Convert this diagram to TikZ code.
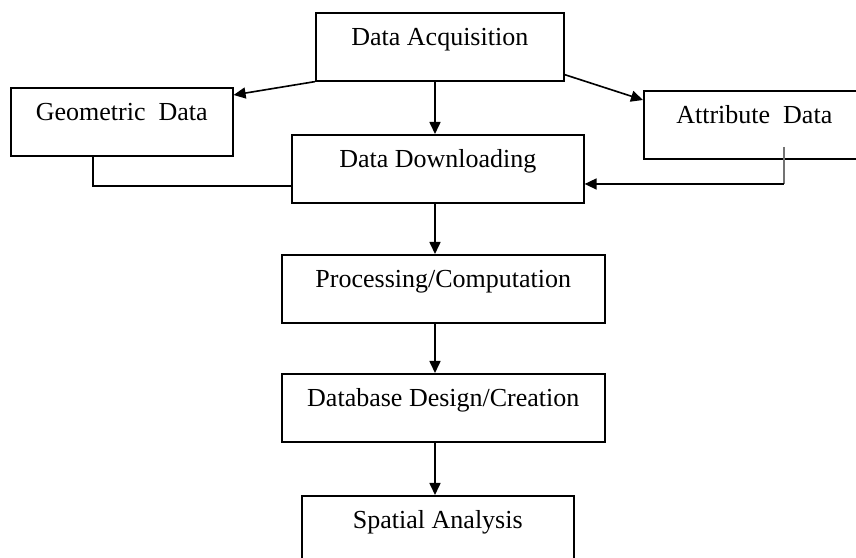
\documentclass[tikz,border=0pt]{standalone}
\usepackage{fontspec}
\setmainfont{Liberation Serif}
\usetikzlibrary{arrows.meta,calc,positioning}

\begin{document}
\begin{tikzpicture}[x=0.4pt, y=-0.4pt,
  >={Triangle[length=4.8pt, width=4.4pt]},
  font=\fontsize{10.4}{12.5}\selectfont,
  stage/.style={draw, line width=0.65pt, inner sep=0pt, anchor=north west,
    text height=13.2pt, text depth=14pt, minimum width=#1*0.4pt},
  link/.style={line width=0.65pt}]

% =========================================================
% canvas (the last box runs off the bottom, the right box off the side)
% =========================================================
\useasboundingbox (0,0) rectangle (856,558);
\clip (0,0) rectangle (856,558);

% =========================================================
% stages
% =========================================================
\node[stage=248] (acq)   at (315,12)  {Data Acquisition};
\node[stage=222] (geo)   at (10,87)   {Geometric~~Data};
\node[stage=221] (attr)  at (643,90)  {Attribute~~Data};
\node[stage=292] (down)  at (291,134) {Data Downloading};
\node[stage=323] (proc)  at (281,254) {Processing/Computation};
\node[stage=323] (dbase) at (281,373) {Database Design/Creation};
\node[stage=272] (spat)  at (301,495) {Spatial Analysis};

% =========================================================
% main flow down the middle
% =========================================================
\coordinate (spine) at (435,0);
\foreach \a/\b in {acq/down, down/proc, proc/dbase, dbase/spat}
  \draw[link, ->] (\a.south -| spine) -- (\b.north -| spine);

% side branches out of the acquisition box
\draw[link, ->] (acq.south west) -- ($(geo.north east)+(0,8)$);
\draw[link, ->] ($(acq.south east)+(0,-7)$) -- ($(attr.north west)+(0,10)$);

% side branches back into the downloading box
\coordinate (geoturn) at (93,186);
\draw[link] (geo.south -| geoturn) |- (down.west |- geoturn);

\coordinate (attrstub) at (784,147);
\coordinate (attrturn) at (784,184);
\draw[link, black!55] (attrstub) -- (attrturn);
\draw[link, ->] (attrturn) -- (down.east |- attrturn);

\end{tikzpicture}
\end{document}
